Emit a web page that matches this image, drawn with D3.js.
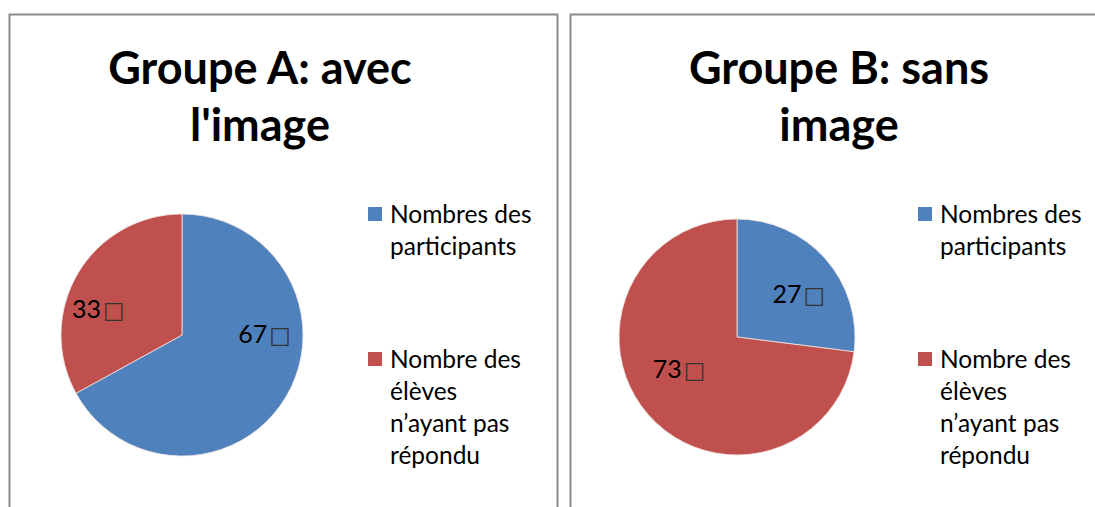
<!DOCTYPE html>
<html>
<head>
<meta charset="utf-8">
<script src="https://cdn.jsdelivr.net/npm/d3@7"></script>
<style>
  body { margin: 0; background: #fff; }
  svg { display: block; font-family: Lato, "Open Sans", sans-serif; }
</style>
</head>
<body>
<svg id="chart" width="1095" height="507"></svg>
<script>
// data
var categories = ["Nombres des participants", "Nombre des élèves n’ayant pas répondu"];
var legendLines = [["Nombres des", "participants"], ["Nombre des", "élèves", "n’ayant pas", "répondu"]];
var groupTitles = [["Groupe A: avec", "l'image"], ["Groupe B: sans", "image"]];
var groupA = [67, 33];
var groupB = [27, 73];
var labelSuffix = "\u25A1";

var colors = d3.scaleOrdinal().domain(categories).range(["#4F81BD", "#C0504D"]);

var svg = d3.select("#chart");

/*
 * one chart panel: frame, title, pie, labels, legend
 */
function drawPanel(opts) {
    var g = svg.append("g");

    g.append("rect")
        .attr("x", opts.frameX)
        .attr("y", 14.5)
        .attr("width", opts.frameW)
        .attr("height", 600)
        .attr("fill", "none")
        .attr("stroke", "#8c8c8c")
        .attr("stroke-width", 2);

    g.append("text")
        .attr("x", opts.titleX)
        .attr("y", 84)
        .attr("text-anchor", "middle")
        .style("font-size", "45px")
        .style("font-weight", "bold")
        .attr("fill", "#000")
        .selectAll("tspan")
        .data(opts.title)
        .join("tspan")
        .attr("x", opts.titleX)
        .attr("dy", function(d, i) { return i === 0 ? 0 : 57; })
        .text(function(d) { return d; });

    var pie = d3.pie().sort(null).value(function(d) { return d.value; });
    var arcs = pie(opts.values.map(function(v, i) { return {cat: categories[i], value: v}; }));
    var arc = d3.arc().innerRadius(0).outerRadius(opts.r);
    var labelArc = d3.arc().innerRadius(opts.r * 0.62).outerRadius(opts.r * 0.62);

    var pg = g.append("g")
        .attr("transform", "translate(" + opts.cx + "," + opts.cy + ")");

    pg.selectAll("path")
        .data(arcs)
        .join("path")
        .attr("d", arc)
        .attr("fill", function(d) { return colors(d.data.cat); })
        .attr("stroke", "#f4e4e4")
        .attr("stroke-width", 0.8);

    pg.selectAll("text")
        .data(arcs)
        .join("text")
        .attr("transform", function(d, i) {
            var c = labelArc.centroid(d);
            return "translate(" + (c[0] + opts.nudge[i][0]) + "," + (c[1] + opts.nudge[i][1]) + ")";
        })
        .attr("text-anchor", "middle")
        .attr("dy", "0.35em")
        .style("font-size", "25px")
        .attr("fill", "#000")
        .each(function(d) {
            var t = d3.select(this);
            t.append("tspan").text(d.data.value);
            t.append("tspan")
                .attr("dx", 2)
                .style("font-family", "DejaVu Sans")
                .style("font-size", "23px")
                .attr("fill", "#333")
                .text(labelSuffix);
        });

    var lg = g.selectAll("g.legend")
        .data(categories)
        .join("g")
        .attr("class", "legend")
        .attr("transform", function(d, i) {
            return "translate(" + opts.legendX + "," + (i === 0 ? 207 : 352) + ")";
        });

    lg.append("rect")
        .attr("width", 14)
        .attr("height", 14)
        .attr("fill", function(d) { return colors(d); });

    lg.append("text")
        .attr("x", 22)
        .attr("y", 16)
        .style("font-size", "24.5px")
        .attr("fill", "#000")
        .selectAll("tspan")
        .data(function(d, i) { return legendLines[i]; })
        .join("tspan")
        .attr("x", 22)
        .attr("dy", function(d, i) { return i === 0 ? 0 : 32; })
        .text(function(d) { return d; });
}

drawPanel({
    frameX: 9.5, frameW: 548, titleX: 260, title: groupTitles[0],
    values: groupA, cx: 182, cy: 335, r: 121,
    nudge: [[18, -39], [-19, 12]],
    legendX: 368
});

drawPanel({
    frameX: 570.5, frameW: 560, titleX: 839, title: groupTitles[1],
    values: groupB, cx: 737, cy: 337, r: 118,
    nudge: [[7, 6], [-3, -16]],
    legendX: 918
});
</script>
</body>
</html>
